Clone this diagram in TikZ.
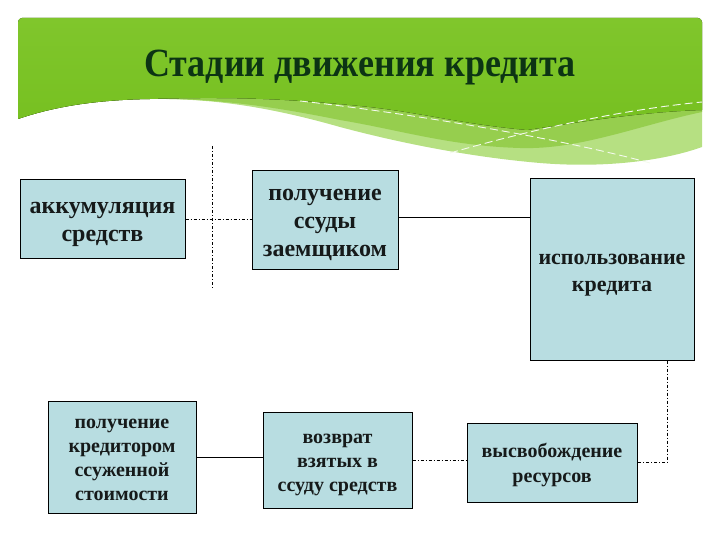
\documentclass[tikz,border=0pt]{standalone}
\usepackage{fontspec}
\setmainfont{Liberation Serif}
\newfontfamily\titlefont[FakeStretch=0.9]{Liberation Serif}

\definecolor{boxfill}{RGB}{184,221,225}
\definecolor{bannerdark}{RGB}{118,192,32}
\definecolor{bannertop}{RGB}{128,198,44}
\definecolor{bandgreen}{RGB}{150,206,78}
\definecolor{palegreen}{RGB}{182,224,130}
\definecolor{titlegreen}{RGB}{12,52,20}
\definecolor{inktext}{RGB}{22,26,26}

% struts that keep the lines of a box a little below its middle
\newcommand\topstrut{\rule{0pt}{\dimexpr0.76em+6pt\relax}}
\newcommand\botstrut{\rule[-0.3em]{0pt}{0pt}}

\tikzset{
  stage/.style={draw=black, line width=1pt, fill=boxfill, align=center,
    inner sep=2pt, text=inktext, font=\bfseries\fontsize{20}{24}\selectfont},
  dashdot link/.style={draw=black, line width=0.8pt,
    dash pattern=on 3pt off 2pt on 1pt off 2pt},
  plain link/.style={draw=black, line width=1pt},
  wave line/.style={draw=white!90!bandgreen, line width=0.9pt,
    dash pattern=on 8pt off 4pt},
}

\begin{document}
\begin{tikzpicture}[x=1pt, y=-1pt]
  \useasboundingbox (0,0) rectangle (720,540);

  % banner
  \fill[palegreen, rounded corners=4pt] (18,119) -- (18,18) -- (702,18) [sharp corners] -- (702,147)
    .. controls (660,162) and (600,168) .. (540,163)
    .. controls (470,157) and (400,143) .. (340,127)
    .. controls (280,110) and (220,98) .. (150,99)
    .. controls (90,100) and (50,108) .. (18,119) -- cycle;
  \fill[bandgreen] (18,119) -- (18,60) -- (702,60) -- (702,112)
    .. controls (640,125) and (580,150) .. (520,148)
    .. controls (450,146) and (400,130) .. (340,120)
    .. controls (280,108) and (220,98) .. (150,99)
    .. controls (90,100) and (50,108) .. (18,119) -- cycle;
  \fill[top color=bannertop, bottom color=bannerdark, rounded corners=4pt]
    (18,119) -- (18,18) -- (702,18) [sharp corners] -- (702,110)
    .. controls (640,112) and (580,122) .. (527,130)
    .. controls (460,124) and (420,112) .. (360,106)
    .. controls (300,100) and (240,96) .. (150,99)
    .. controls (90,100) and (50,108) .. (18,119) -- cycle;
  \draw[wave line] (300,101) .. controls (400,112) and (560,138) .. (650,163);
  \draw[wave line] (450,153) .. controls (530,130) and (620,110) .. (702,102);

  \node[anchor=base, text=titlegreen, font=\titlefont\bfseries\fontsize{40}{42}\selectfont]
    (title) at (360,77) {Стадии движения кредита};

  % stages
  \node[stage, minimum width=165pt, minimum height=78pt, font=\bfseries\fontsize{24}{28}\selectfont]
    (accum) at (102.5,219) {\topstrut аккумуляция\\средств\botstrut};
  \node[stage, minimum width=146pt, minimum height=98pt, font=\bfseries\fontsize{24}{28}\selectfont]
    (issue) at (325,220) {\topstrut получение\\ссуды\\заемщиком\botstrut};
  \node[stage, minimum width=164pt, minimum height=181pt, font=\bfseries\fontsize{22}{27}\selectfont]
    (usage) at (612,269.5) {\topstrut использование\\кредита\botstrut};
  \node[stage, minimum width=148pt, minimum height=112pt]
    (receipt) at (122,457) {\topstrut получение\\кредитором\\ссуженной\\стоимости\botstrut};
  \node[stage, minimum width=149pt, minimum height=96pt]
    (repay) at (337.5,460) {\topstrut возврат\\взятых в\\ссуду средств\botstrut};
  \node[stage, minimum width=170pt, minimum height=79pt, font=\bfseries\fontsize{20}{25}\selectfont]
    (release) at (552,462.5) {\topstrut высвобождение\\ресурсов\botstrut};

  % connectors
  \coordinate (splittop) at (212,146);
  \coordinate (splitbot) at (212,288);
  \coordinate (turn) at (667,462.5);
  \draw[dashdot link] (splittop) -- (splitbot);
  \draw[dashdot link] (accum.east) -- (accum.east -| issue.west);
  \draw[plain link] (issue.east |- 0,218) -- (usage.west |- 0,218);
  \draw[dashdot link] (usage.south -| turn) -- (turn) -- (release.east);
  \draw[dashdot link] (repay.east) -- (repay.east -| release.west);
  \draw[plain link] (receipt.east) -- (receipt.east -| repay.west);
\end{tikzpicture}
\end{document}
